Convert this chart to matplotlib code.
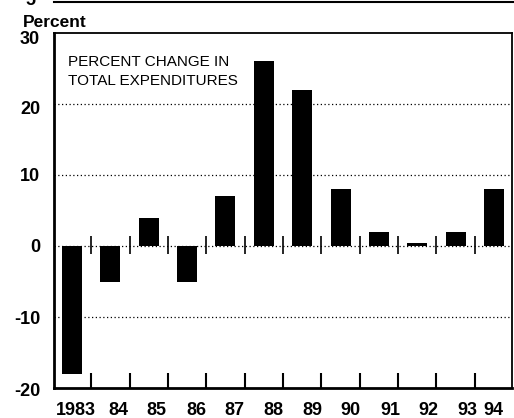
import numpy as np
import matplotlib
matplotlib.use("Agg")
import matplotlib.pyplot as plt
from matplotlib.lines import Line2D
from matplotlib.transforms import ScaledTranslation

# data
years = ["1983", "84", "85", "86", "87", "88", "89", "90", "91", "92", "93", "94"]
pct_change = [-18, -5, 4, -5, 7, 26, 22, 8, 2, 0.4, 2, 8]
yticks = [-20, -10, 0, 10, 20, 30]

plt.rcParams['font.family'] = ['Liberation Sans', 'DejaVu Sans']

fig = plt.figure(figsize=(5.14, 4.18), dpi=100, facecolor='white')
ax = fig.add_axes([54 / 514, 30 / 418, 458 / 514, 355 / 418])

x = np.arange(len(years))
ax.bar(x, pct_change, width=0.52, color='black', zorder=3)

ax.set_xlim(-0.47, len(years) - 0.53)
ax.set_ylim(-20, 30)

# dotted grid lines
for v in yticks[1:-1]:
    ax.axhline(v, color='black', lw=0.9, ls=(0, (1, 2)), zorder=1)

# separators between years: at the bottom and across the zero line
sep = x[:-1] + 0.5
ax.vlines(sep, -20, -17.9, color='black', lw=1.5, zorder=4)
ax.vlines(sep, -1.1, 1.4, color='black', lw=1.2, zorder=4)

# spines
for side in ['left', 'bottom']:
    ax.spines[side].set_linewidth(2)
for side in ['top', 'right']:
    ax.spines[side].set_linewidth(1.3)

ax.set_yticks(yticks)
ax.set_yticklabels([str(v) for v in yticks], fontsize=13, fontweight='bold')
ax.tick_params(axis='y', length=0, pad=10)
# top labels sit a little below their lines
ynudge = [-2, 0, 0, 0, -4, -5]
for lab, dy in zip(ax.get_yticklabels(), ynudge):
    lab.set_transform(lab.get_transform() + ScaledTranslation(0, dy / 100, fig.dpi_scale_trans))

ax.set_xticks(x)
ax.set_xticklabels(years, fontsize=13, fontweight='bold')
ax.tick_params(axis='x', length=0, pad=10)
# labels are hand-set slightly right of the bars
nudge = [4, 8, 8, 9, 9, 10, 10, 10, 11, 11, 12, -1]
for lab, dx in zip(ax.get_xticklabels(), nudge):
    lab.set_transform(lab.get_transform() + ScaledTranslation(dx / 100, 0, fig.dpi_scale_trans))

fig.text(23 / 514, 1 - 27 / 418, "Percent", fontsize=12.5, fontweight='bold', va='baseline', ha='left')
fig.text(68 / 514, 1 - 66 / 418, "PERCENT CHANGE IN", fontsize=11, va='baseline', ha='left')
fig.text(68 / 514, 1 - 85 / 418, "TOTAL EXPENDITURES", fontsize=11, va='baseline', ha='left')

# bottom edge of the panel above
fig.add_artist(Line2D([54 / 514, 1.0], [1 - 2 / 418, 1 - 2 / 418], color='black', lw=1.5))
fig.text(25 / 514, 1 - 5 / 418, "5", fontsize=13, fontweight='bold', va='baseline', ha='left')

fig.savefig("out.png", dpi=100, facecolor='white')
